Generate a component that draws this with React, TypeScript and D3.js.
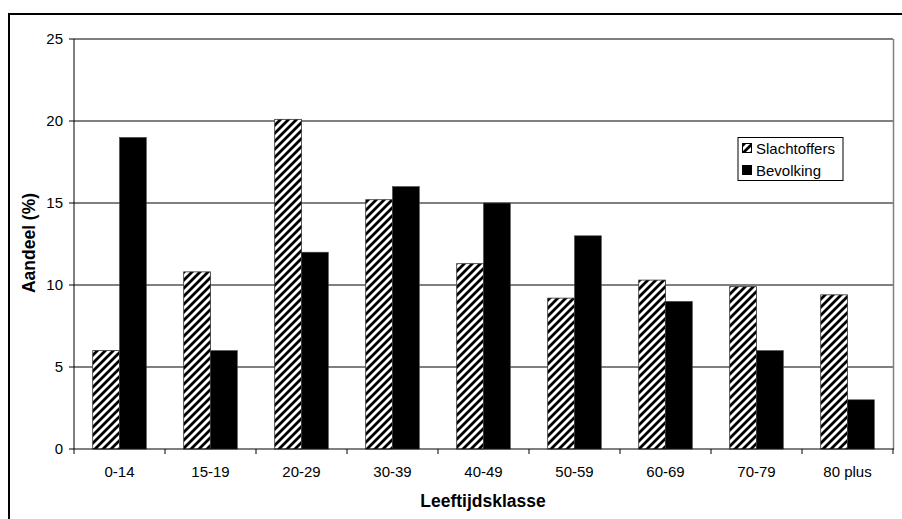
import React from "react";
import * as d3 from "d3";

const categories = ["0-14", "15-19", "20-29", "30-39", "40-49", "50-59", "60-69", "70-79", "80 plus"];
const slachtoffers = [6.0, 10.8, 20.1, 15.2, 11.3, 9.2, 10.3, 9.9, 9.4];
const bevolking = [19, 6, 12, 16, 15, 13, 9, 6, 3];
const yTicks = [0, 5, 10, 15, 20, 25];
const seriesNames = ["Slachtoffers", "Bevolking"];

const W = 902;
const H = 519;
const left = 74;
const right = 893;
const top = 39;
const bottom = 449;
const font = "Arial, 'Liberation Sans', sans-serif";

export default function App() {
  const x = d3.scaleBand<string>().domain(categories).range([left, right]).paddingInner(0).paddingOuter(0);
  const y = d3.scaleLinear().domain([0, 25]).range([bottom, top]);
  const bw = x.bandwidth();
  const barW = 26.8;
  const sub = d3.scaleBand<string>().domain(seriesNames).range([0, barW * 2]);

  return (
    <svg width={W} height={H} style={{ position: "absolute", left: 0, top: 0, background: "#fff" }}>
      <defs>
        <pattern id="hatch" patternUnits="userSpaceOnUse" width={8} height={8}>
          <rect width={8} height={8} fill="#fff" />
          <path d="M-2,2 L2,-2 M0,8 L8,0 M6,10 L10,6" stroke="#000" strokeWidth={2.8} />
        </pattern>
      </defs>
      <rect x={9} y={14} width={1000} height={1000} fill="none" stroke="#000" strokeWidth={2} />
      {yTicks.filter((t) => t > 0).map((t) => (
        <line key={t} x1={left} x2={right} y1={y(t)} y2={y(t)} stroke="#000" strokeWidth={1} />
      ))}
      <line x1={right + 0.5} x2={right + 0.5} y1={top} y2={bottom} stroke="#808080" strokeWidth={1.5} />
      {categories.map((c, i) => {
        const x0 = (x(c) as number) + (bw - barW * 2) / 2;
        return (
          <g key={c}>
            <rect
              x={x0 + (sub("Slachtoffers") as number)}
              y={y(slachtoffers[i])}
              width={barW}
              height={y(0) - y(slachtoffers[i])}
              fill="url(#hatch)"
              stroke="#333"
              strokeWidth={0.8}
            />
            <rect
              x={x0 + (sub("Bevolking") as number)}
              y={y(bevolking[i])}
              width={barW}
              height={y(0) - y(bevolking[i])}
              fill="#000"
              stroke="#444"
              strokeWidth={0.6}
            />
          </g>
        );
      })}
      <line x1={left} x2={left} y1={top} y2={bottom} stroke="#000" strokeWidth={1} />
      <line x1={left} x2={right + 1} y1={bottom} y2={bottom} stroke="#000" strokeWidth={1} />
      {yTicks.map((t) => (
        <g key={t}>
          <line x1={left - 5} x2={left} y1={y(t)} y2={y(t)} stroke="#000" />
          <text x={left - 11} y={y(t)} dy="0.36em" textAnchor="end" fontFamily={font} fontSize={15} fill="#000">
            {t}
          </text>
        </g>
      ))}
      {categories.map((c, i) => (
        <g key={c}>
          <line x1={(x(c) as number)} x2={(x(c) as number)} y1={bottom} y2={bottom + 5} stroke="#000" />
          {i === categories.length - 1 && (
            <line x1={right} x2={right} y1={bottom} y2={bottom + 5} stroke="#000" />
          )}
          <text x={(x(c) as number) + bw / 2} y={477} textAnchor="middle" fontFamily={font} fontSize={15} fill="#000">
            {c}
          </text>
        </g>
      ))}
      <text x={483} y={507} textAnchor="middle" fontFamily={font} fontSize={17.5} fontWeight="bold" fill="#000">
        Leeftijdsklasse
      </text>
      <text
        transform={`translate(35,243) rotate(-90)`}
        textAnchor="middle"
        fontFamily={font}
        fontSize={17.5}
        fontWeight="bold"
        fill="#000"
      >
        Aandeel (%)
      </text>
      <g>
        <rect x={738} y={137.5} width={105} height={43} fill="#fff" stroke="#000" strokeWidth={1} />
        <rect x={742.5} y={143.5} width={9} height={9} fill="url(#hatch)" stroke="#000" strokeWidth={1} />
        <text x={756} y={154} fontFamily={font} fontSize={15} fill="#000">
          Slachtoffers
        </text>
        <rect x={742.5} y={165.5} width={9} height={9} fill="#000" stroke="#000" strokeWidth={1} />
        <text x={756} y={176} fontFamily={font} fontSize={15} fill="#000">
          Bevolking
        </text>
      </g>
    </svg>
  );
}
